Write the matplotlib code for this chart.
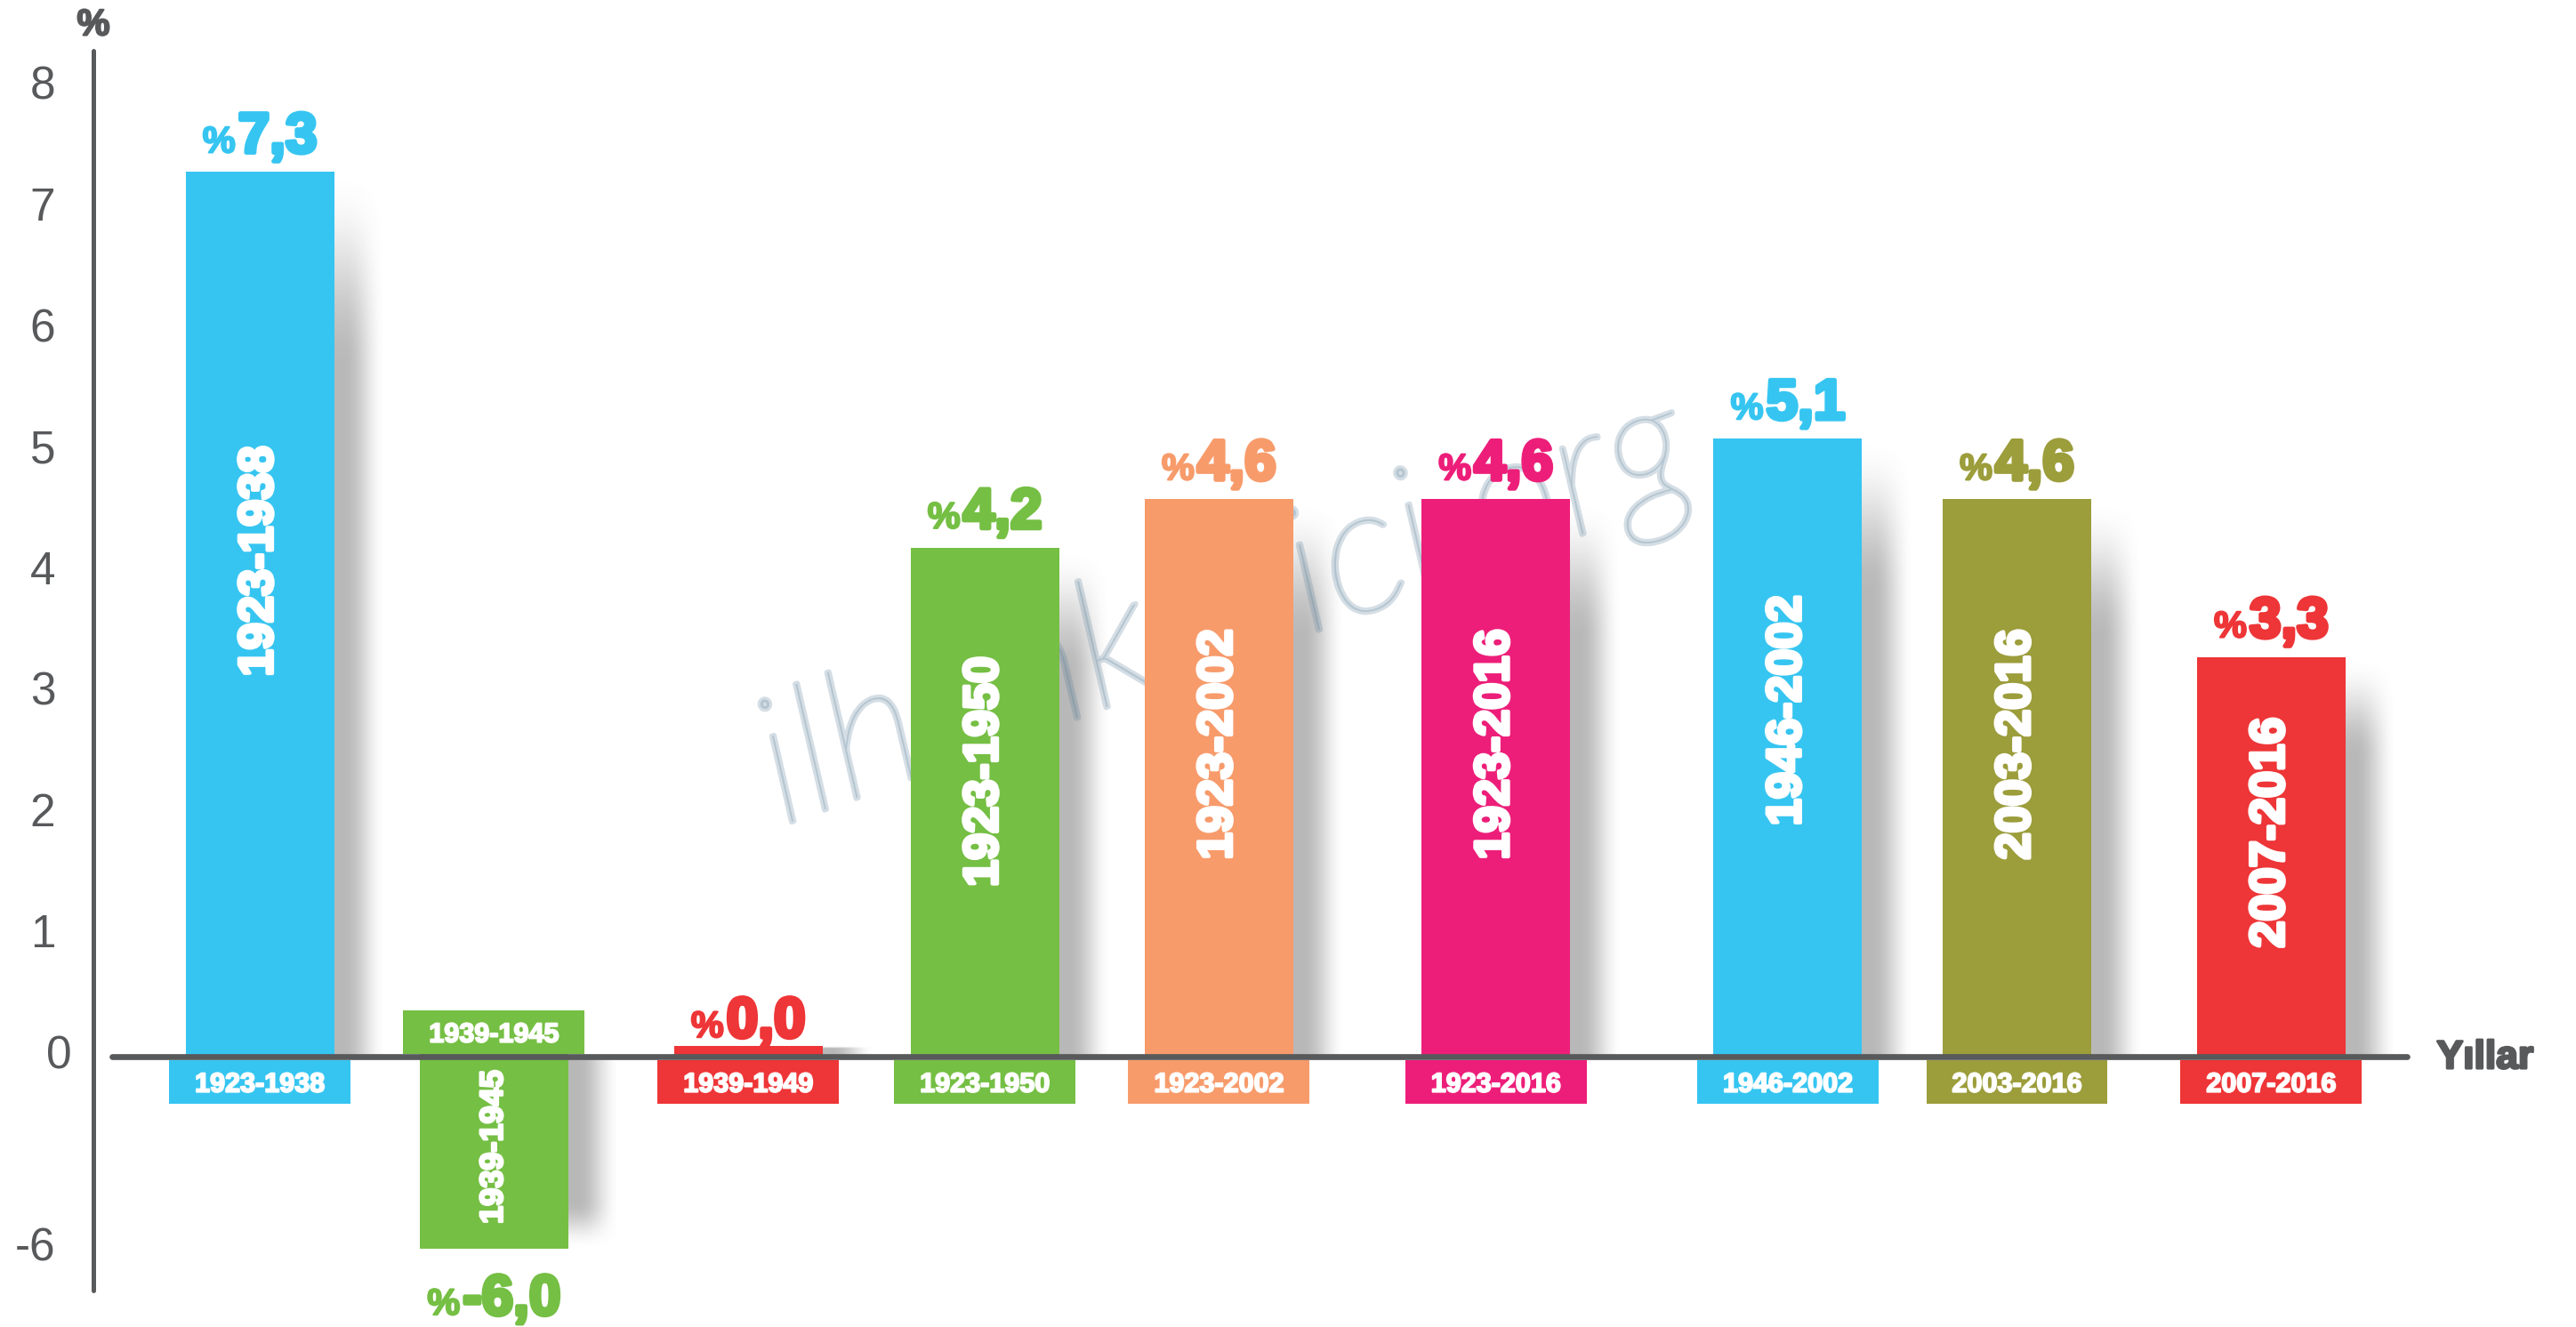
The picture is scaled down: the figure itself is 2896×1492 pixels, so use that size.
import numpy as np
import matplotlib
matplotlib.use("Agg")
import matplotlib.pyplot as plt
import matplotlib.patheffects as pe
from matplotlib.patches import Rectangle

# ---------------------------------------------------------------- data
periods = ["1923-1938", "1939-1945", "1939-1949", "1923-1950", "1923-2002",
           "1923-2016", "1946-2002", "2003-2016", "2007-2016"]
growth = [7.3, -6.0, 0.0, 4.2, 4.6, 4.6, 5.1, 4.6, 3.3]
y_ticks = [8, 7, 6, 5, 4, 3, 2, 1, 0, -6]
y_tick_labels = ["8", "7", "6", "5", "4", "3", "2", "1", "0", "-6"]
x_title = "Yıllar"
y_title = "%"
watermark = "ilhankesici.org"

# ---------------------------------------------------------------- style
BLUE = "#36c5f1"
GREEN = "#75bf44"
RED = "#ee3537"
ORANGE = "#f79b6b"
PINK = "#ed1e79"
OLIVE = "#9c9d3b"
GREY = "#58595b"
WM_COLOR = "#5a7f99"
bar_colors = [BLUE, GREEN, RED, GREEN, ORANGE, PINK, BLUE, OLIVE, RED]

# bar slots along x (the groups are spaced a little unevenly)
slots = [0.0, 0.93, 1.94, 2.88, 3.81, 4.91, 6.07, 6.98, 7.99]
BAR_W = 0.59
BOX_W = 0.72
NEG_SQUEEZE = 0.2642      # the negative half of the axis is compressed
TAB_PX = 12               # small tab drawn on the baseline under every bar
SHADOW_A = 0.5
BOLD = "Liberation Sans"

W, H, DPI = 2896, 1492, 100


def fwd(y):
    y = np.asarray(y, dtype=float)
    return np.where(y >= 0, y, y * NEG_SQUEEZE)


def inv(y):
    y = np.asarray(y, dtype=float)
    return np.where(y >= 0, y, y / NEG_SQUEEZE)


def smooth(t):
    t = np.clip(t, 0.0, 1.0)
    return t * t * (3 - 2 * t)


fig = plt.figure(figsize=(W / DPI, H / DPI), dpi=DPI, facecolor="white")
ax = fig.add_axes([0, 0, 1, 1])
ax.set_facecolor("white")
ax.set_yscale("function", functions=(fwd, inv))
XLIM = (-1.032, 9.201)
YLIM = (-8.44, 8.72)
ax.set_xlim(*XLIM)
ax.set_ylim(*YLIM)
ax.set_xticks([])
ax.set_yticks([])
ax.tick_params(length=0)
ax.yaxis.set_minor_locator(matplotlib.ticker.NullLocator())

# axis lines
for s in ("top", "right"):
    ax.spines[s].set_visible(False)
ax.spines["left"].set_position(("data", -0.661))
ax.spines["left"].set_bounds(-7.3, 8.3)
ax.spines["left"].set_linewidth(3.6)
ax.spines["bottom"].set_position(("data", 0))
ax.spines["bottom"].set_bounds(-0.587, 8.53)
ax.spines["bottom"].set_linewidth(4.8)
for s in ("left", "bottom"):
    ax.spines[s].set_color(GREY)
    ax.spines[s].set_capstyle("round")
    ax.spines[s].set_zorder(4)

# bars
bars = ax.bar(slots, growth, width=BAR_W, color=bar_colors, linewidth=0,
              zorder=2)

base = ax.transData.transform((0, 0))[1]


def yd(off_px):
    """data y lying off_px display pixels above the zero line"""
    return ax.transData.inverted().transform((0, base + off_px))[1]


# baseline tabs
for x, c in zip(slots, bar_colors):
    y0, y1 = yd(0), yd(TAB_PX)
    ax.add_patch(Rectangle((x - BAR_W / 2, y0), BAR_W, y1 - y0, color=c,
                           lw=0, zorder=2))

# soft shadows to the right of every bar
alpha = np.zeros((H, W))
cols = np.arange(W) + 0.5
rows = np.arange(H) + 0.5
for x, v in zip(slots, growth):
    (xr, yend) = ax.transData.transform((x + BAR_W / 2, v))
    L = max(abs(yend - base), TAB_PX)
    sgn = 1 if v >= 0 else -1
    t = (rows - base) * sgn
    F = min(220.0, 0.25 * L)
    vprof = np.where(t >= 0, smooth((L - t) / F), 0.0)
    dx = cols - xr
    hprof = np.where(dx >= -1, smooth((58 - dx) / 46), 0.0)
    alpha = np.maximum(alpha, SHADOW_A * np.outer(vprof, hprof))
rgba = np.zeros((H, W, 4))
rgba[..., :3] = 0.45
rgba[..., 3] = alpha
ax.imshow(rgba, origin="lower", extent=(0, 1, 0, 1), transform=ax.transAxes,
          aspect="auto", interpolation="nearest", zorder=0.5)
ax.set_xlim(*XLIM)
ax.set_ylim(*YLIM)

# watermark
ax.text(3.90, 3.29, watermark, rotation=20, rotation_mode="anchor",
        ha="center", va="baseline", fontsize=144, style="italic",
        fontweight="light", family="Lato", color=WM_COLOR, alpha=0.25,
        zorder=1,
        path_effects=[pe.Stroke(linewidth=4.5, foreground=WM_COLOR)])

# y tick labels
tick_nudge = {0: 0.065, -6: -0.03}
for tv, lab in zip(y_ticks, y_tick_labels):
    ax.text(-0.862 + tick_nudge.get(tv, 0.0), tv, lab, ha="center",
            va="center", fontsize=37, color=GREY, family="Liberation Sans",
            zorder=5)

# axis titles
ax.text(-0.661, 8.43, y_title, ha="center", va="baseline", fontsize=30,
        fontweight="bold", family=BOLD, color=GREY, zorder=5,
        path_effects=[pe.withStroke(linewidth=1.5, foreground=GREY)])
ax.text(8.84, yd(-13), x_title, ha="center", va="baseline", fontsize=32,
        fontweight="bold", family=BOLD, color=GREY, zorder=5,
        path_effects=[pe.withStroke(linewidth=2.0, foreground=GREY)])

# coloured period boxes on the axis
for x, per, c, v in zip(slots, periods, bar_colors, growth):
    if v >= 0:
        lo, hi, bl = yd(-53), yd(-4), yd(-39.5)
    else:
        lo, hi, bl = yd(3), yd(52), yd(16.5)
    ax.add_patch(Rectangle((x - BOX_W / 2, lo), BOX_W, hi - lo, color=c,
                           lw=0, zorder=3))
    ax.text(x, bl, per, ha="center", va="baseline", fontsize=22,
            fontweight="bold", family=BOLD, color="white", zorder=5,
            path_effects=[pe.withStroke(linewidth=1.4, foreground="white")])

# period names written up the bars
for x, per, v in zip(slots, periods, growth):
    L = abs(ax.transData.transform((0, v))[1] - base)
    if L < 120:
        continue
    fs = min(39.0, 0.8 * L / 4.78 * 0.72)
    yc = v * 0.56 if v > 0 else v * 0.47
    ax.text(x, yc, per, rotation=90, ha="center", va="center", fontsize=fs,
            fontweight="bold", family=BOLD, color="white", zorder=5,
            path_effects=[pe.withStroke(linewidth=3.0 * fs / 39.0,
                                        foreground="white")])

# value labels: small "%" followed by the figure
pairs = []
for x, v, c in zip(slots, growth, bar_colors):
    num = f"{v:.1f}".replace(".", ",")
    off = 22 if v >= 0 else -74
    tp = ax.annotate("%", xy=(x, v), xytext=(0, off),
                     textcoords="offset pixels", ha="left", va="baseline",
                     fontsize=30, fontweight="bold", family=BOLD, color=c,
                     zorder=5,
                     path_effects=[pe.withStroke(linewidth=1.5, foreground=c)])
    tn = ax.annotate(num, xy=(x, v), xytext=(0, off),
                     textcoords="offset pixels", ha="left", va="baseline",
                     fontsize=46, fontweight="bold", family=BOLD, color=c,
                     zorder=5,
                     path_effects=[pe.withStroke(linewidth=3.5, foreground=c)])
    pairs.append((tp, tn, off))

fig.canvas.draw()
rend = fig.canvas.get_renderer()
GAP = 3
for tp, tn, off in pairs:
    wp = tp.get_window_extent(rend).width
    wn = tn.get_window_extent(rend).width
    left = -(wp + wn + GAP) / 2
    tp.xyann = (left, off)
    tn.xyann = (left + wp + GAP, off)

fig.savefig("out.png", dpi=DPI, facecolor="white")
